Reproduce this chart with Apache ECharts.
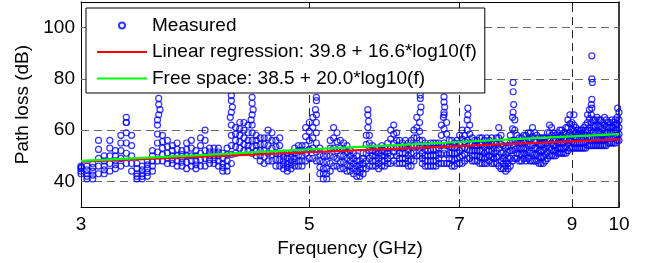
<!DOCTYPE html>
<html>
<head>
  <meta charset="utf-8">
</head>
<body style="margin: 0; width: 657px; height: 263px; background: #fff;">
  <div id="container" style="width: 657px; height: 263px;"></div>
  <script src="https://cdn.jsdelivr.net/npm/echarts@6/dist/echarts.min.js"></script>
  <script>
    // measurement sweep: 3 to 10 GHz, 0.04 GHz steps (176 columns)
    var fStart = 3, fStep = 0.04, nCols = 176;
    var freq = [];
    for (var i = 0; i < nCols; i++) freq.push(+(fStart + i * fStep).toFixed(2));

    // per-column spread of measured path loss (dB)
    var measLow = [
      43,41,41,43,43, 44,45,46,47,44, 41,41,42,44,48, 48,47,47,46,46,
      45,46,45,46,46, 47,47,46,44,44, 47,51,53,52,52, 51,50,48,47,48,
      48,46,46,45,44, 45,46,46,46,48, 49,49,48,43,41, 41,44,46,46,45,
      45,44,44,43,42, 42,43,45,46,46, 46,45,46,46,47, 47,48,47,47,47,
      47,46,46,48,50, 50,47,46,46,46, 46,46,47,47,47, 47,47,46,46,47,
      47,47,48,49,49, 48,48,48,47,47, 47,47,48,47,47, 47,46,45,45,44,
      45,46,48,49,49, 48,48,49,48,49, 48,48,48,48,47, 47,47,48,49,50,
      50,50,50,51,51, 51,51,51,52,53, 53,53,53,53,53, 53,53,53,54,54,
      54,54,54,54,54, 54,54,54,54,55, 55,55,55,55,56,56
    ];
    var measQ1 = [
      44,42,42.5,46,44.5, 47,46.5,49,51,47, 42,42,43.5,46,51.5, 50.5,49,48.5,48,47.5,
      47.5,48,46.5,48.5,49, 48.5,48.5,48,45.5,46, 50.5,53.5,55.5,54.5,54, 53.5,52,50,49.5,51,
      50.5,48.5,48.5,46.5,45.5, 46.5,47.5,48,48,51, 52.5,53,51.5,45.5,43, 43,47,49.5,49,47.5,
      47.5,46.5,46,45,44, 43.5,45,48,49,48, 48,47,48,48,49, 50,51.5,50,49,49,
      49,48,48.5,51,53.5, 53,49,48,48,48, 48,48,49,50.5,51, 50.5,49,48.5,48.5,49,
      49.5,50,50.5,52.5,52, 50,50,50,49.5,49.5, 49,49.5,50,49.5,49, 49.5,49.5,48,47,46,
      47,49,52,52.5,51, 50.5,50.5,51,50.5,51.5, 51,51,50.5,50.5,49.5, 49.5,49.5,50.5,51.5,53,
      52.5,52,52,53,53, 53,53,53.5,55,56, 55.5,55,55,55,55, 55,55,55.5,57,57.5,
      57,56.5,56.5,56.5,56.5, 56.5,56,56.5,56.5,57, 57,57,57,57.5,58,58.5
    ];
    var measMid = [
      45,43,44,49,46, 50,48,52,55,50, 43,43,45,48,55, 53,51,50,50,49,
      50,50,48,51,52, 50,50,50,47,48, 54,56,58,57,56, 56,54,52,52,54,
      53,51,51,48,47, 48,49,50,50,54, 56,57,55,48,45, 45,50,53,52,50,
      50,49,48,47,46, 45,47,51,52,50, 50,49,50,50,51, 53,55,53,51,51,
      51,50,51,54,57, 56,51,50,50,50, 50,50,51,54,55, 54,51,51,51,51,
      52,53,53,56,55, 52,52,52,52,52, 51,52,52,52,51, 52,53,51,49,48,
      49,52,56,56,53, 53,53,53,53,54, 54,54,53,53,52, 52,52,53,54,56,
      55,54,54,55,55, 55,55,56,58,59, 58,57,57,57,57, 57,57,58,60,61,
      60,59,59,59,59, 59,58,59,59,59, 59,59,59,60,60,61
    ];
    var measQ3 = [
      45.5,44.5,45.5,52.5,48, 53,50,55,59,54, 45,44.5,46.5,50,58.5, 55.5,53.5,52,52.5,50.5,
      52.5,53,50,54,56, 51.5,51.5,51.5,49,50.5, 58,58.5,60.5,60,59, 59,56,54.5,54.5,57,
      56,53.5,54,49.5,49, 49.5,51,52,52,57.5, 59.5,61,59,50.5,47.5, 47.5,53,57,55.5,53,
      52.5,51.5,50,49,48, 46.5,49,54.5,55,52, 51.5,51,52,51.5,53, 56.5,58.5,56,53.5,53,
      53.5,52.5,53.5,57,61, 59.5,53.5,52.5,52,52.5, 52.5,52.5,53,58,60.5, 58.5,53.5,53.5,53,53.5,
      55,56.5,55.5,60,58.5, 54.5,54,54,54.5,54.5, 53.5,54.5,54,54.5,53, 54.5,57,54.5,51.5,50.5,
      51.5,55,60.5,60,55.5, 55,55,55.5,55.5,56.5, 56.5,57.5,56,55.5,54.5, 54.5,54.5,55,56.5,59,
      58,56.5,56,57,57.5, 57.5,57,58.5,61,62.5, 60.5,59.5,59,58.5,58.5, 58.5,59,60,63,64.5,
      63,61.5,61.5,62,61.5, 61.5,60.5,62,61.5,61, 61,61.5,61,62,62.5,64
    ];
    var measHigh = [
      46,46,47,56,50, 56,52,58,63,58, 47,46,48,52,62, 58,56,54,55,52,
      55,56,52,57,60, 53,53,53,51,53, 62,61,63,63,62, 62,58,57,57,60,
      59,56,57,51,51, 51,53,54,54,61, 63,65,63,53,50, 50,56,61,59,56,
      55,54,52,51,50, 48,51,58,58,54, 53,53,54,53,55, 60,62,59,56,55,
      56,55,56,60,65, 63,56,55,54,55, 55,55,55,62,66, 63,56,56,55,56,
      58,60,58,64,62, 57,56,56,57,57, 56,57,56,57,55, 57,61,58,54,53,
      54,58,65,64,58, 57,57,58,58,59, 59,61,59,58,57, 57,57,57,59,62,
      61,59,58,59,60, 60,59,61,64,66, 63,62,61,60,60, 60,61,62,66,68,
      66,64,64,65,64, 64,63,65,64,63, 63,64,63,64,65,67
    ];
    // isolated high readings [GHz, dB]
    var measSpikes = [
      [3.32,65],[3.32,63],
      [3.57,72.4],[3.57,70],[3.58,68],[3.57,66],[3.56,64],
      [4.20,73.5],[4.20,71.5],[4.21,69],[4.20,67],[4.19,65],
      [4.40,72.8],[4.40,70.5],[4.41,68],[4.40,66],[4.39,64],
      [5.08,72.8],[5.08,71.5],[5.07,68],[5.08,66],
      [5.70,68],[5.70,66],[5.71,63.5],[5.70,61],
      [6.41,73.7],[6.41,72.4],[6.42,69],[6.41,67],
      [6.76,73],[6.76,71],[6.77,69],[6.76,67],[6.75,65],
      [7.13,68.6],[7.13,66],
      [7.89,78.6],[7.89,75],[7.90,70],[7.89,67],
      [9.04,66],
      [9.41,89],[9.41,80],[9.42,78.6],[9.41,72],[9.40,70],[9.41,68.6],
      [9.97,68.6]
    ];

    // fitted models read at whole GHz
    var fitFreq = [3, 4, 5, 6, 7, 8, 9, 10];
    var linReg = [47.7, 49.8, 51.4, 52.7, 53.8, 54.8, 55.6, 56.4];
    var freeSpace = [48.0, 50.5, 52.5, 54.1, 55.4, 56.6, 57.6, 58.5];

    var xTicks = [3, 5, 7, 9, 10];
    var xGrid = [5, 7, 9];
    var yTicks = [40, 60, 80, 100];

    var names = ['Measured', 'Linear regression: 39.8 + 16.6*log10(f)', 'Free space: 38.5 + 20.0*log10(f)'];

    var measured = [];
    var rows = [measLow, measQ1, measMid, measQ3, measHigh];
    for (var i = 0; i < nCols; i++) {
      rows.forEach(function (r) { measured.push([freq[i], r[i]]); });
    }
    measured = measured.concat(measSpikes);

    function pairs(xs, ys) {
      return xs.map(function (x, k) { return [x, ys[k]]; });
    }

    var gridLines = [];
    yTicks.forEach(function (v) {
      gridLines.push({ yAxis: v, lineStyle: { color: '#6a6a6a', type: [8, 5], width: 1 } });
    });
    xGrid.forEach(function (v) {
      gridLines.push({ xAxis: v, lineStyle: { color: '#222', type: [8, 5], width: 1 } });
    });

    var hideDot = { opacity: 0 };
    var font = 'Liberation Sans, Arial, sans-serif';
    var dom = document.getElementById('container');
    var chart = echarts.init(dom, null, { renderer: 'canvas' });

    var option = {
      animation: false,
      textStyle: { fontFamily: font },
      grid: { left: 81, right: 38, top: 2, bottom: 55 },
      legend: {
        data: [
          { name: names[0] },
          { name: names[1], itemStyle: hideDot },
          { name: names[2], itemStyle: hideDot }
        ],
        orient: 'vertical',
        left: 86,
        top: 8,
        z: 10,
        padding: [8, 8, 5, 10],
        itemGap: 7.5,
        itemWidth: 50,
        itemHeight: 6,
        backgroundColor: '#fff',
        borderColor: '#000',
        borderWidth: 1,
        borderRadius: 0,
        textStyle: { fontSize: 19, color: '#000', fontFamily: font }
      },
      xAxis: [{
        type: 'log',
        logBase: 10,
        min: 3,
        max: 10,
        name: 'Frequency (GHz)',
        nameLocation: 'middle',
        nameGap: 30,
        nameTextStyle: { fontSize: 19, color: '#000' },
        axisLine: { lineStyle: { color: '#000', width: 1 } },
        axisTick: { inside: true, length: 5, customValues: xTicks, lineStyle: { color: '#000' } },
        axisLabel: { customValues: xTicks, fontSize: 19, color: '#000', margin: 8 },
        splitLine: { show: false },
        minorTick: { show: false }
      }, {
        type: 'log',
        logBase: 10,
        min: 3,
        max: 10,
        position: 'top',
        axisLine: { lineStyle: { color: '#000', width: 1 } },
        axisTick: { inside: true, length: 5, customValues: xGrid, lineStyle: { color: '#000' } },
        axisLabel: { show: false },
        splitLine: { show: false }
      }],
      yAxis: [{
        type: 'value',
        min: 30,
        max: 110,
        name: 'Path loss (dB)',
        nameLocation: 'middle',
        nameGap: 47,
        nameTextStyle: { fontSize: 19, color: '#000' },
        axisLine: { show: true, lineStyle: { color: '#000', width: 1 } },
        axisTick: { show: true, inside: true, length: 5, customValues: yTicks, lineStyle: { color: '#000' } },
        axisLabel: { customValues: yTicks, fontSize: 19, color: '#000', margin: 6 },
        splitLine: { show: false }
      }, {
        type: 'value',
        min: 30,
        max: 110,
        position: 'right',
        axisLine: { show: true, lineStyle: { color: '#000', width: 1.5 } },
        axisTick: { show: true, inside: true, length: 5, customValues: yTicks, lineStyle: { color: '#000' } },
        axisLabel: { show: false },
        splitLine: { show: false }
      }],
      series: [{
        name: 'grid',
        type: 'line',
        data: [],
        z: 1,
        silent: true,
        markLine: {
          z: 1,
          silent: true,
          symbol: 'none',
          label: { show: false },
          data: gridLines
        }
      }, {
        name: names[0],
        type: 'scatter',
        data: measured,
        z: 2,
        symbol: 'circle',
        symbolSize: 6,
        itemStyle: { color: 'rgba(0,0,0,0)', borderColor: '#0000ff', borderWidth: 1.2 }
      }, {
        name: names[1],
        type: 'line',
        data: pairs(fitFreq, linReg),
        z: 3,
        symbol: 'none',
        color: '#ff0000',
        lineStyle: { color: '#ff0000', width: 2.2 }
      }, {
        name: names[2],
        type: 'line',
        data: pairs(fitFreq, freeSpace),
        z: 3,
        symbol: 'none',
        color: '#00ff00',
        lineStyle: { color: '#00ff00', width: 2.2 }
      }]
    };

    chart.setOption(option);
  </script>
</body>
</html>
